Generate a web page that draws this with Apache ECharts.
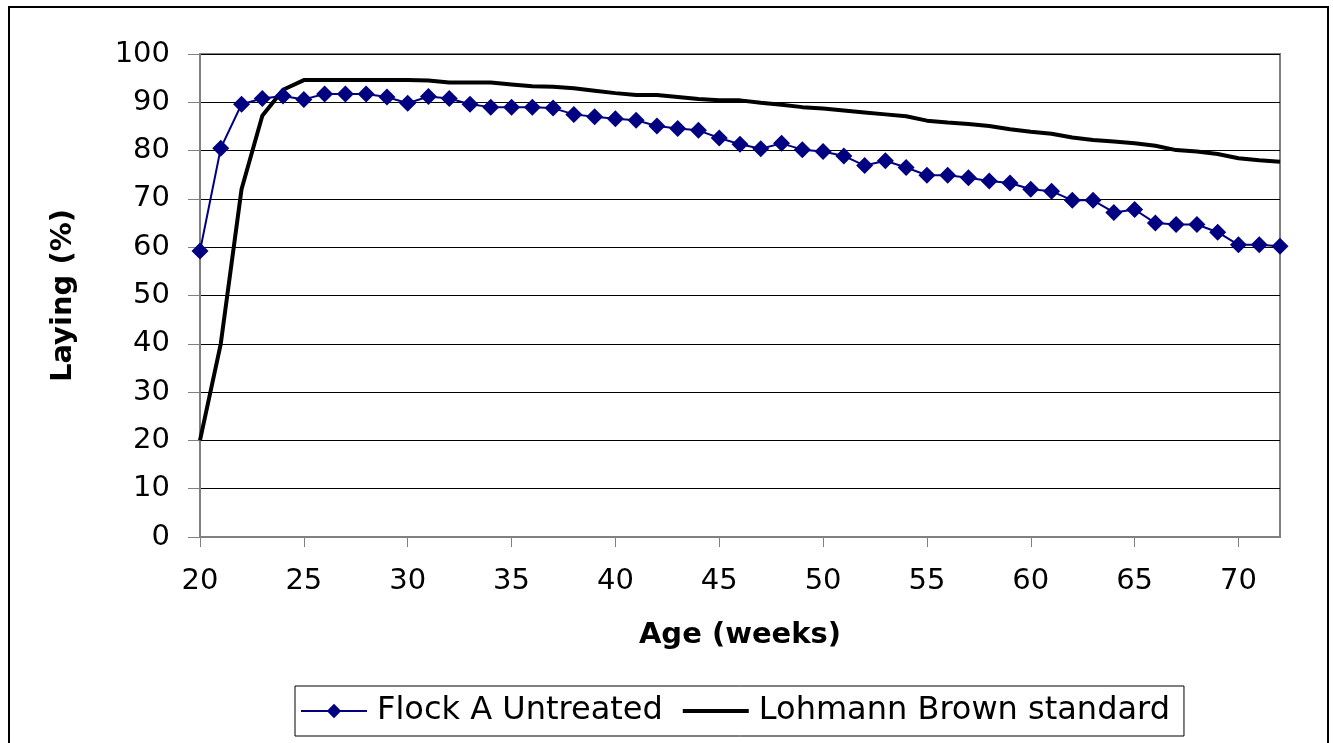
<!DOCTYPE html>
<html>
<head>
<meta charset="utf-8">
<script src="https://cdn.jsdelivr.net/npm/echarts@6/dist/echarts.min.js"></script>
<style>
html,body{margin:0;padding:0;background:#fff;}
#chart{width:1333px;height:743px;}
</style>
</head>
<body>
<div id="chart"></div>
<script>
const weeks = [20,21,22,23,24,25,26,27,28,29,30,31,32,33,34,35,36,37,38,39,40,41,42,43,44,45,46,47,48,49,50,51,52,53,54,55,56,57,58,59,60,61,62,63,64,65,66,67,68,69,70,71,72];
const flockA = [59.2,80.5,89.6,90.8,91.3,90.6,91.7,91.7,91.7,91.1,89.8,91.2,90.8,89.6,89.0,89.0,89.0,88.8,87.5,87.0,86.6,86.3,85.1,84.6,84.2,82.6,81.3,80.4,81.5,80.2,79.8,78.9,76.9,77.9,76.5,74.9,74.9,74.4,73.7,73.3,72.0,71.6,69.7,69.7,67.2,67.8,65.0,64.7,64.7,63.1,60.5,60.5,60.2];
const lohmann = [20.0,40.0,72.0,87.2,92.6,94.6,94.6,94.6,94.6,94.6,94.6,94.5,94.1,94.1,94.1,93.7,93.3,93.2,92.9,92.4,91.9,91.5,91.5,91.1,90.7,90.4,90.4,89.9,89.5,89.0,88.7,88.3,87.9,87.5,87.1,86.2,85.8,85.5,85.1,84.4,83.9,83.5,82.7,82.2,81.9,81.5,81.0,80.1,79.8,79.3,78.4,78.0,77.7];
const seriesNames = ['Flock A Untreated','Lohmann Brown standard'];
const xTitle = 'Age (weeks)';
const yTitle = 'Laying (%)';

const FONT = 'DejaVu Sans, Liberation Sans, Arial, sans-serif';
const chart = echarts.init(document.getElementById('chart'), null, {renderer:'canvas'});
chart.setOption({
  animation:false,
  backgroundColor:'#fff',
  graphic:[{type:'rect', shape:{x:9, y:7, width:1319, height:800}, style:{fill:'none', stroke:'#000', lineWidth:2}, silent:true, z:-1}],
  grid:{left:200, top:54, right:53, bottom:206, show:true, borderColor:'#808080', borderWidth:2, backgroundColor:'transparent'},
  xAxis:{
    type:'value', min:20, max:72, interval:5,
    name:xTitle, nameLocation:'middle', nameGap:84,
    nameTextStyle:{fontFamily:FONT, fontSize:29, fontWeight:'bold', color:'#000'},
    axisLine:{lineStyle:{color:'#808080', width:2}},
    axisTick:{show:true, length:10, lineStyle:{color:'#808080', width:1}},
    axisLabel:{fontFamily:FONT, fontSize:29, color:'#000', margin:30, showMaxLabel:false},
    splitLine:{show:false}
  },
  yAxis:{
    type:'value', min:0, max:100, interval:10,
    name:yTitle, nameLocation:'middle', nameGap:122, nameRotate:90,
    nameTextStyle:{fontFamily:FONT, fontSize:29, fontWeight:'bold', color:'#000'},
    axisLine:{show:true, lineStyle:{color:'#808080', width:2}},
    axisTick:{show:true, length:12, lineStyle:{color:'#808080', width:1}},
    axisLabel:{fontFamily:FONT, fontSize:29, color:'#000', margin:30},
    splitLine:{show:true, lineStyle:{color:'#000', width:1}}
  },
  legend:{
    left:295, top:686, orient:'horizontal',
    data:[
      {name:seriesNames[0], lineStyle:{width:2, color:'#000080'}},
      {name:seriesNames[1], itemStyle:{opacity:0, color:'rgba(0,0,0,0)', borderWidth:0}, lineStyle:{width:4, color:'#000'}}
    ],
    itemWidth:66, itemHeight:18, itemGap:18,
    padding:[9,14,9,5],
    borderColor:'#000', borderWidth:1,
    textStyle:{fontFamily:FONT, fontSize:32, color:'#000', padding:[0,0,0,5]}
  },
  series:[
    {name:seriesNames[0], type:'line', data:weeks.map((w,i)=>[w,flockA[i]]),
     symbol:'diamond', symbolSize:17, itemStyle:{color:'#000080'},
     lineStyle:{color:'#000080', width:2}, z:3},
    {name:seriesNames[1], type:'line', data:weeks.map((w,i)=>[w,lohmann[i]]),
     symbol:'none', itemStyle:{color:'#000'},
     lineStyle:{color:'#000', width:4}, z:2}
  ]
});
</script>
</body>
</html>
